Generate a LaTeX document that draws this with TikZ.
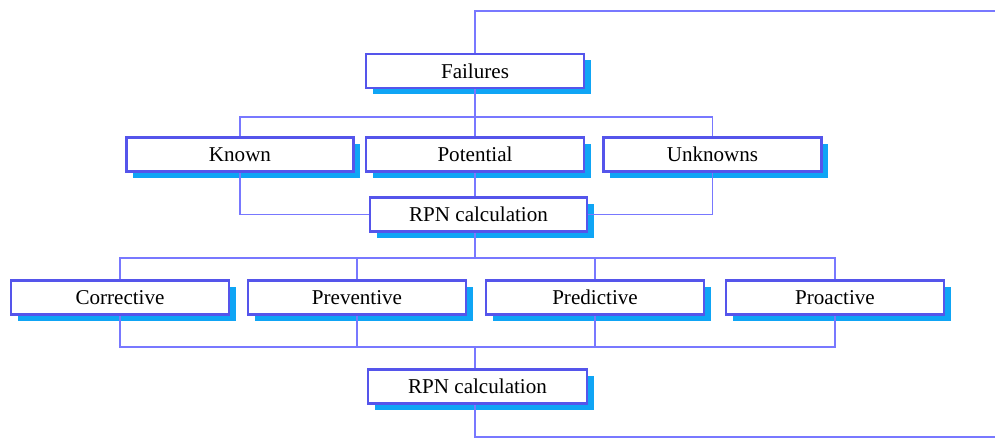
\documentclass[tikz,border=0pt]{standalone}
\usepackage{fontspec}
\setmainfont{Liberation Serif}
\usepackage{xcolor}
\usepackage{tikz}
\usetikzlibrary{positioning,shadows}

\definecolor{linkblue}{RGB}{120,120,255}
\definecolor{boxblue}{RGB}{85,85,235}
\definecolor{shadecyan}{RGB}{15,165,245}

\begin{document}
\begin{tikzpicture}[
  box/.style={draw=boxblue,fill=white,rectangle,line width=1.4pt,minimum width=4.36cm,minimum height=0.68cm,font=\fontsize{12}{14}\selectfont,inner sep=0pt,
    drop shadow={shadow xshift=0.13cm,shadow yshift=-0.13cm,fill=shadecyan,opacity=1}},
  link/.style={draw=linkblue,line width=0.85pt}
]
\useasboundingbox (0,0) rectangle (19.9,8.78);

\node[box] (fail) at (9.5,7.36) {Failures};
\node[box,minimum width=4.54cm] (known) at (4.8,5.69) {Known};
\node[box] (pot) at (9.5,5.69) {Potential};
\node[box] (unk) at (14.25,5.69) {Unknowns};
\node[box,minimum width=4.34cm] (rpnA) at (9.57,4.49) {RPN calculation};
\node[box] (corr) at (2.4,2.83) {Corrective};
\node[box] (prev) at (7.14,2.83) {Preventive};
\node[box] (pred) at (11.9,2.83) {Predictive};
\node[box] (proa) at (16.7,2.83) {Proactive};
\node[box,minimum width=4.38cm] (rpnB) at (9.55,1.05) {RPN calculation};

\coordinate (topR) at (19.9,8.56);
\coordinate (botR) at (19.9,0.04);
\coordinate (busA) at (9.5,6.44);
\coordinate (busB) at (9.5,3.62);
\coordinate (busC) at (9.5,1.84);

\draw[link] (fail.north -| busA) |- (topR);
\draw[link] (fail.south -| busA) -- (busA);
\draw[link] (known.north) |- (busA) -| (unk.north);
\draw[link] (pot.north -| busA) -- (busA);
\draw[link] (known.south) |- (rpnA.west);
\draw[link] (unk.south) |- (rpnA.east);
\draw[link] (pot.south -| busA) -- (rpnA.north -| busA);
\draw[link] (rpnA.south -| busA) -- (busB);
\draw[link] (corr.north) |- (busB) -| (proa.north);
\draw[link] (prev.north) |- (busB);
\draw[link] (pred.north) |- (busB);
\draw[link] (corr.south) |- (busC) -| (proa.south);
\draw[link] (prev.south) |- (busC);
\draw[link] (pred.south) |- (busC);
\draw[link] (busC) -- (rpnB.north -| busC);
\draw[link] (rpnB.south -| busC) |- (botR);

\end{tikzpicture}
\end{document}
